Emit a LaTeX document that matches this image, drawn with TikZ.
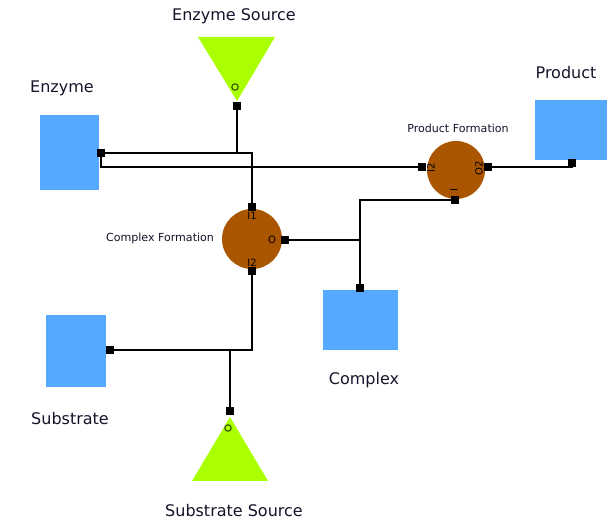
\documentclass[tikz,border=0pt]{standalone}
\usepackage{fontspec}
\setmainfont{DejaVu Sans}
\usetikzlibrary{calc}
\definecolor{boxblue}{HTML}{55AAFF}
\definecolor{srclime}{HTML}{AAFF00}
\definecolor{procbrown}{HTML}{AA5500}
\definecolor{txt}{HTML}{14142A}
\tikzset{
  species/.style={fill=boxblue, draw=none, inner sep=0pt},
  proc/.style={circle, fill=procbrown, draw=none, minimum size=60*0.75pt, inner sep=0pt},
  port/.style={fill=black, draw=none, minimum size=6pt, inner sep=0pt},
  wire/.style={draw=black, line width=1.1pt},
  lbl/.style={text=txt, font=\fontsize{12}{14}\selectfont, inner sep=0pt},
  smalllbl/.style={text=txt, font=\fontsize{8.3}{9}\selectfont, inner sep=0pt},
  portlbl/.style={text=black, font=\fontsize{7.5}{8}\selectfont, inner sep=0pt},
  srcmark/.style={draw=black!70!srclime, line width=0.8pt}
}
\begin{document}
\begin{tikzpicture}[x=0.75pt,y=-0.75pt]
\useasboundingbox (0,0) rectangle (615,523);
% species boxes
\node[species, minimum width=59*0.75pt, minimum height=75*0.75pt] (enzyme) at (69.5,152.5) {};
\node[species, minimum width=72*0.75pt, minimum height=60*0.75pt] (product) at (571,130) {};
\node[species, minimum width=75*0.75pt, minimum height=60*0.75pt] (complex) at (360.5,320) {};
\node[species, minimum width=60*0.75pt, minimum height=72*0.75pt] (substrate) at (76,351) {};
% sources
\fill[srclime] (198,37) -- (275,37) -- (237,101) -- cycle;
\coordinate (esrc) at (237,70);
\draw[srcmark] (235,87) circle (3.2);
\fill[srclime] (230,417) -- (268,481) -- (192,481) -- cycle;
\coordinate (ssrc) at (230,450);
\draw[srcmark] (228,428) circle (3.2);
% processes
\node[proc] (cf) at (252,239) {};
\node[proc, minimum size=58*0.75pt] (pf) at (456,170) {};
% ports
\node[port] (pE) at (101,153) {};
\node[port] (pES) at (237,106) {};
\node[port] (pCF1) at (252,207) {};
\node[port] (pCFO) at (285,240) {};
\node[port] (pCF2) at (252,271) {};
\node[port] (pPFL) at (422,167) {};
\node[port] (pPFR) at (488,167) {};
\node[port] (pPFB) at (455,200) {};
\node[port] (pP) at (572,163) {};
\node[port] (pC) at (360,288) {};
\node[port] (pS) at (110,350) {};
\node[port] (pSS) at (230,411) {};
% junctions
\coordinate (jE) at (pES |- pE);
\coordinate (jC) at (pC |- pCFO);
\coordinate (jS) at (pSS |- pS);
% wires
\draw[wire] (pE.center) -| (pCF1.center);
\draw[wire] (pES.center) -- (jE);
\draw[wire] (pE.center) |- (pPFL.center);
\draw[wire] (pCFO.center) -- (jC);
\draw[wire] (pC.center) |- (pPFB.center);
\draw[wire] (pPFR.center) -| (pP.center);
\draw[wire] (pS.center) -| (pCF2.center);
\draw[wire] (pSS.center) -- (jS);
% port labels
\node[portlbl] at (252,216) {I1};
\node[portlbl] at (272,240) {O};
\node[portlbl] at (252,263) {I2};
\node[portlbl, rotate=90] at (431,168) {I2};
\node[portlbl, rotate=90] at (479,168) {O2};
\node[portlbl, rotate=90] at (454,190) {I};
% labels
\node[lbl] (tEnz) at (62,88) {Enzyme};
\node[lbl] (tES) at (234,16) {Enzyme Source};
\node[lbl] (tProd) at (566,73) {Product};
\node[smalllbl] (tPF) at (458,128) {Product Formation};
\node[smalllbl] (tCF) at (160,238) {Complex Formation};
\node[lbl] (tCx) at (364,380) {Complex};
\node[lbl] (tSub) at (70,419) {Substrate};
\node[lbl] (tSS) at (234,511) {Substrate Source};
\end{tikzpicture}
\end{document}
